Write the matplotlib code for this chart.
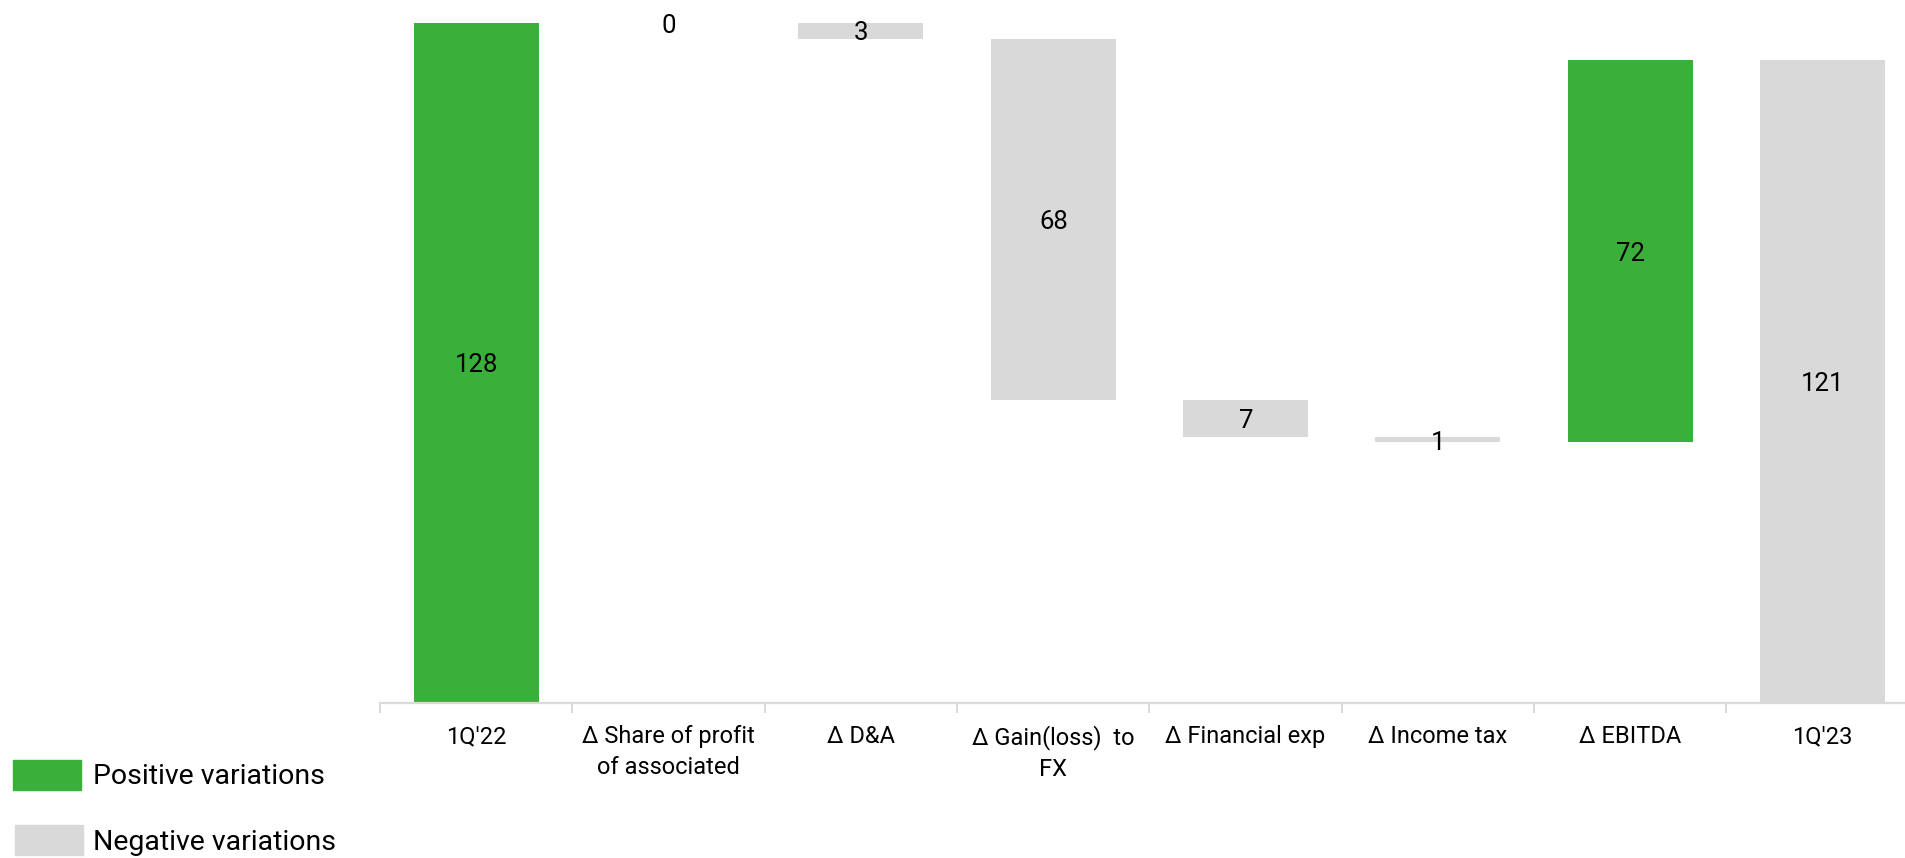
import matplotlib.pyplot as plt
from matplotlib.patches import Rectangle
import numpy as np

plt.rcParams['font.family'] = ['Roboto', 'DejaVu Sans']

# bridge data
categorias = ["1Q'22", "Δ Share of profit\nof associated", "Δ D&A", "Δ Gain(loss)  to\nFX",
              "Δ Financial exp", "Δ Income tax", "Δ EBITDA", "1Q'23"]
inicio = 128
variaciones = [0, -3, -68, -7, -1, 72]
final = 121

VERDE = '#3AB03A'
GRIS = '#D9D9D9'

# bottoms / heights for every bar of the waterfall
bases, alturas, colores, etiquetas = [0], [inicio], [VERDE], [inicio]
acumulado = inicio
for v in variaciones:
    bases.append(min(acumulado, acumulado + v))
    alturas.append(abs(v))
    colores.append(VERDE if v > 0 else GRIS)
    etiquetas.append(abs(v))
    acumulado += v
bases.append(0)
alturas.append(final)
colores.append(VERDE if final > inicio else GRIS)
etiquetas.append(final)

fig = plt.figure(figsize=(19.05, 8.58), dpi=100)
ax = fig.add_axes([0.1995, 0.181, 0.8005, 0.7925])

x = np.arange(len(categorias))
ax.bar(x, alturas, bottom=bases, width=0.65, color=colores, zorder=2)

for xi, b, h, et in zip(x, bases, alturas, etiquetas):
    ax.annotate(str(et), (xi, b + h / 2), xytext=(0.5, -2), textcoords='offset points',
                ha='center', va='center', fontsize=18.5, color='black',
                annotation_clip=False, zorder=3)

ax.set_xlim(-0.5, 7.43)
ax.set_ylim(0, 128)

for lado in ['top', 'right', 'left']:
    ax.spines[lado].set_visible(False)
ax.spines['bottom'].set_color(GRIS)
ax.spines['bottom'].set_linewidth(1.6)
ax.set_yticks([])

ax.set_xticks(x)
ax.set_xticklabels(categorias, fontsize=17, linespacing=1.45)
ax.tick_params(axis='x', which='major', length=0, pad=16)
ax.set_xticks(np.arange(-0.5, 7.5, 1.0), minor=True)
ax.tick_params(axis='x', which='minor', length=7, width=1.4, color=GRIS)

# legend drawn in figure coordinates
W, H = fig.get_size_inches() * fig.dpi
for (x0, y0, c, txt) in [(13, 760, VERDE, 'Positive variations'),
                         (15, 825, GRIS, 'Negative variations')]:
    fig.add_artist(Rectangle((x0 / W, 1 - (y0 + 30) / H), 68 / W, 30 / H,
                             transform=fig.transFigure, color=c))
    fig.text(93 / W, 1 - (y0 + 17) / H, txt, fontsize=20.5, va='center', ha='left')

fig.savefig('out.png', dpi=100)
